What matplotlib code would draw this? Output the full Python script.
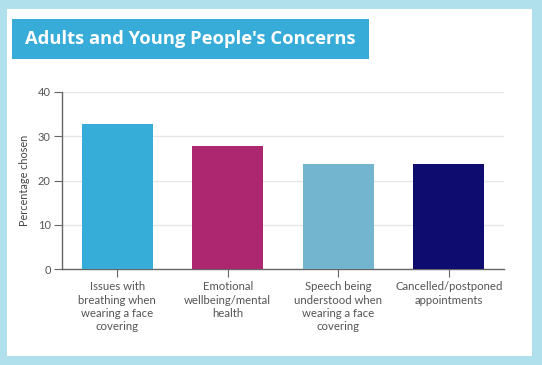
import matplotlib
matplotlib.use("Agg")
import matplotlib.pyplot as plt
from matplotlib.patches import Rectangle

categories = ["Issues with\nbreathing when\nwearing a face\ncovering",
              "Emotional\nwellbeing/mental\nhealth",
              "Speech being\nunderstood when\nwearing a face\ncovering",
              "Cancelled/postponed\nappointments"]
values = [32.7, 27.8, 23.8, 23.8]
colors = ["#36acd8", "#ad2770", "#73b4cf", "#0e0c6e"]
yticks = [0, 10, 20, 30, 40]
title = "Adults and Young People's Concerns"
ylabel = "Percentage chosen"

W, H = 542, 365
fig = plt.figure(figsize=(W/100, H/100), dpi=100)
fig.patch.set_facecolor("#b0e0ec")
# white panel
fig.patches.append(Rectangle((7/W, 1 - 356/H), (532-7)/W, (356-9)/H,
                             transform=fig.transFigure, facecolor="white",
                             edgecolor="none", zorder=-2))
# title box
fig.patches.append(Rectangle((12/W, 1 - 59/H), (369-12)/W, (59-19)/H,
                             transform=fig.transFigure, facecolor="#38acd8",
                             edgecolor="none", zorder=-1))
fig.text(25/W, 1 - 39.5/H, title, color="white", fontsize=13.2, fontweight="bold",
         family="Open Sans", va="center", ha="left", zorder=2)

ax = fig.add_axes([62/W, 1 - 269/H, (504-62)/W, (269-92)/H])
ax.set_zorder(5)
ax.set_facecolor("none")
x = range(len(categories))
ax.bar(x, values, width=0.645, color=colors, zorder=3)
ax.set_xlim(-0.5, 3.5)
ax.set_ylim(0, 40)
ax.set_yticks(yticks)
ax.set_xticks(list(x))
ax.set_xticklabels(categories, fontsize=8.2, color="#555555", family="Lato",
                   linespacing=1.25)
for lab in ax.get_yticklabels():
    lab.set_fontsize(8); lab.set_color("#555555"); lab.set_family("Lato")
ax.grid(axis="y", color="#e6e6e6", linewidth=1, zorder=0)
for s in ["top", "right"]:
    ax.spines[s].set_visible(False)
for s in ["left", "bottom"]:
    ax.spines[s].set_color("#666666")
    ax.spines[s].set_linewidth(1)
ax.tick_params(axis="y", length=6, color="#666666", pad=2)
ax.tick_params(axis="x", length=6, color="#666666", pad=3)
ax.set_ylabel(ylabel, fontsize=7.8, color="#444444", family="Lato", labelpad=6)

fig.savefig("out.png", dpi=100, facecolor=fig.get_facecolor())
